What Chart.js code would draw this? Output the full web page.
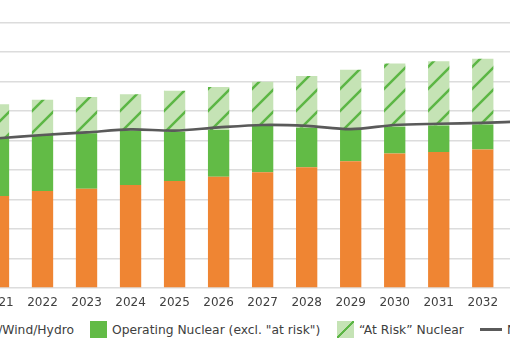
<!DOCTYPE html>
<html>
<head>
<meta charset="utf-8">
<script src="https://cdn.jsdelivr.net/npm/chart.js@4.4.1/dist/chart.umd.min.js"></script>
<style>
  html, body { margin: 0; padding: 0; background: #fff; }
  body { width: 510px; height: 351px; overflow: hidden; position: relative; font-family: "DejaVu Sans", sans-serif; }
  #wrap { position: absolute; left: -40px; top: 0; width: 600px; height: 310px; }
  #legend { position: absolute; top: 321px; left: 0; width: 510px; height: 17px; color: #404040; font-size: 12.3px; }
  .item { position: absolute; top: 0; height: 17px; display: flex; align-items: center; white-space: nowrap; }
  .sw { width: 17px; height: 17px; margin-right: 5px; flex: none; }
  .ln { width: 22px; height: 3px; background: #5a5a5a; margin-right: 5px; flex: none; }
</style>
</head>
<body>
<div id="wrap"><canvas id="c"></canvas></div>
<div id="legend"></div>
<script>
// ---- data ----
const categories = ['2021','2022','2023','2024','2025','2026','2027','2028','2029','2030','2031','2032','2033'];
const renewables = [31.2, 32.9, 33.7, 34.9, 36.3, 37.7, 39.3, 41.0, 43.0, 45.6, 46.1, 47.0, 48.0];
const operatingNuclear = [19.6, 19.0, 18.8, 18.5, 16.7, 15.9, 15.7, 13.4, 10.9, 9.1, 9.0, 8.5, 8.5];
const atRiskNuclear = [11.5, 12.0, 12.3, 12.3, 13.9, 14.6, 15.0, 17.5, 20.1, 21.5, 21.8, 22.3, 22.5];
const netLoad = [50.8, 51.9, 52.8, 53.8, 53.4, 54.5, 55.3, 55.0, 53.9, 55.3, 55.7, 56.0, 56.6];
const legendLabels = ['Solar/Wind/Hydro', 'Operating Nuclear (excl. "at risk")', '\u201CAt Risk\u201D Nuclear', 'Net Load'];
const yMin = 0, yMax = 90, yStep = 10;

// ---- colours ----
const ORANGE = '#ef8533', GREEN = '#62bb46', LIGHT = '#c5e3b5', HATCH = '#5cb645', LINE = '#5a5a5a';

const canvas = document.getElementById('c');
const ctx = canvas.getContext('2d');

function makeHatch() {
  const s = 22;
  const c = document.createElement('canvas');
  c.width = s; c.height = s;
  const g = c.getContext('2d');
  g.fillStyle = LIGHT; g.fillRect(0, 0, s, s);
  g.strokeStyle = HATCH; g.lineWidth = 2.5;
  g.beginPath();
  g.moveTo(-3, s + 3); g.lineTo(s + 3, -3);
  g.moveTo(-3, 3); g.lineTo(3, -3);
  g.moveTo(s - 3, s + 3); g.lineTo(s + 3, s - 3);
  g.stroke();
  const p = ctx.createPattern(c, 'repeat');
  if (p.setTransform) p.setTransform(new DOMMatrix().translate(7, 0));
  return p;
}
const hatch = makeHatch();

new Chart(canvas, {
  type: 'bar',
  data: {
    labels: categories,
    datasets: [
      { type: 'line', label: legendLabels[3], data: netLoad, stack: 'load', borderColor: LINE, borderWidth: 2.6,
        pointRadius: 0, tension: 0.3, fill: false, order: 0 },
      { label: legendLabels[0], data: renewables, backgroundColor: ORANGE, stack: 'clean', order: 1 },
      { label: legendLabels[1], data: operatingNuclear, backgroundColor: GREEN, stack: 'clean', order: 1 },
      { label: legendLabels[2], data: atRiskNuclear, backgroundColor: hatch, stack: 'clean', order: 1 }
    ]
  },
  options: {
    responsive: true,
    maintainAspectRatio: false,
    animation: false,
    devicePixelRatio: 1,
    layout: { padding: { left: 16.47, right: 11.2, top: 22.7, bottom: 0 } },
    datasets: { bar: { categoryPercentage: 0.484, barPercentage: 1, borderWidth: 0 } },
    plugins: { legend: { display: false }, tooltip: { enabled: false } },
    scales: {
      x: {
        stacked: true,
        grid: { display: false, drawTicks: false },
        border: { display: false },
        ticks: { color: '#404040', font: { family: 'DejaVu Sans', size: 12 }, padding: 7.5, maxRotation: 0, autoSkip: false },
        afterFit: (a) => { a.height = 22; }
      },
      y: {
        stacked: true,
        min: yMin, max: yMax,
        ticks: { display: false, stepSize: yStep },
        grid: { color: '#dcdcdc', lineWidth: 1.5, drawTicks: false },
        border: { display: false },
        afterFit: (a) => { a.width = 0; }
      }
    }
  }
});

// ---- HTML legend ----
const legend = document.getElementById('legend');
function addItem(style, swatchHtml, text) {
  const d = document.createElement('div');
  d.className = 'item';
  Object.assign(d.style, style);
  d.innerHTML = swatchHtml;
  const t = document.createElement('span');
  t.textContent = text;
  d.appendChild(t);
  legend.appendChild(d);
}
addItem({ right: '436px' }, '<div class="sw" style="background:' + ORANGE + '"></div>', legendLabels[0]);
addItem({ left: '90px' }, '<div class="sw" style="background:' + GREEN + '"></div>', legendLabels[1]);
addItem({ left: '337px' }, '<div class="sw" style="background:linear-gradient(to bottom right, transparent calc(50% - 1.3px), ' + HATCH + ' calc(50% - 1.3px), ' + HATCH + ' calc(50% + 1.3px), transparent calc(50% + 1.3px)), ' + LIGHT + '"></div>', legendLabels[2]);
addItem({ left: '480px' }, '<div class="ln"></div>', legendLabels[3]);
</script>
</body>
</html>
